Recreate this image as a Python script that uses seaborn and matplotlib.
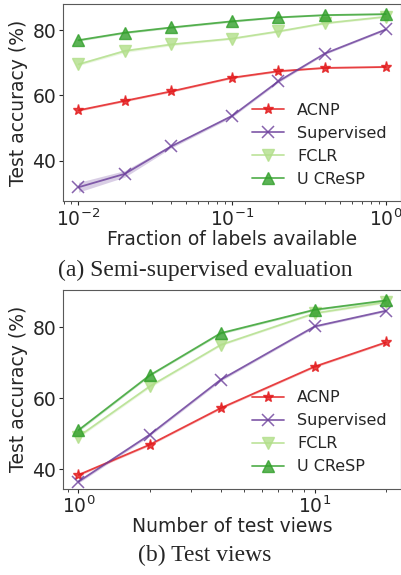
import numpy as np
import pandas as pd
import seaborn as sns
import matplotlib.pyplot as plt

# Semi-supervised evaluation
frac = [0.01, 0.02, 0.04, 0.1, 0.2, 0.4, 1.0]
acnp_a = [55.4, 58.3, 61.2, 65.4, 67.4, 68.4, 68.7]
sup_a = [31.8, 35.9, 44.3, 53.7, 64.3, 72.8, 80.2]
fclr_a = [69.5, 73.6, 75.6, 77.4, 79.6, 82.1, 84.1]
ucresp_a = [76.9, 79.2, 80.8, 82.7, 83.9, 84.6, 84.9]
acnp_a_sd = [0.3, 0.3, 0.3, 0.3, 0.3, 0.2, 0.2]
sup_a_sd = [1.5, 1.0, 0.5, 0.4, 0.4, 0.3, 0.3]
fclr_a_sd = [0.4, 0.5, 0.4, 0.3, 0.3, 0.3, 0.3]
ucresp_a_sd = [0.3, 0.3, 0.3, 0.3, 0.2, 0.2, 0.2]

# Test views
views = [1, 2, 4, 10, 20]
acnp_b = [38.4, 46.9, 57.2, 68.9, 75.7]
sup_b = [36.5, 49.7, 65.2, 80.2, 84.6]
fclr_b = [49.2, 63.3, 75.0, 83.9, 87.0]
ucresp_b = [51.0, 66.4, 78.3, 84.9, 87.5]
acnp_b_sd = [0.3, 0.3, 0.3, 0.3, 0.3]
sup_b_sd = [0.4, 0.4, 0.4, 0.3, 0.3]
fclr_b_sd = [0.4, 0.4, 0.3, 0.3, 0.3]
ucresp_b_sd = [0.4, 0.3, 0.3, 0.3, 0.3]

methods = ['ACNP', 'Supervised', 'FCLR', 'U CReSP']
colors = {'ACNP': '#e31a1c', 'Supervised': '#6a3d9a', 'FCLR': '#b2df8a', 'U CReSP': '#33a02c'}
markers = {'ACNP': '*', 'Supervised': 'x', 'FCLR': 'v', 'U CReSP': '^'}

sns.set_style('white')
plt.rcParams['font.family'] = ['DejaVu Sans']

fig = plt.figure(figsize=(4.02, 5.75), dpi=100)
ax1 = fig.add_axes([0.157, 0.650, 0.841, 0.343])
ax2 = fig.add_axes([0.157, 0.150, 0.841, 0.346])


def draw(ax, x, series, sds):
    for name, vals, sd in zip(methods, series, sds):
        df = pd.DataFrame({'x': x, 'y': vals})
        sns.lineplot(data=df, x='x', y='y', ax=ax, color=colors[name],
                     marker=markers[name], markersize=8, markeredgewidth=1.0 if name != 'Supervised' else 1.1,
                     markeredgecolor=colors[name], alpha=0.8, lw=1.3, label=name)
        lo = np.array(vals) - np.array(sd)
        hi = np.array(vals) + np.array(sd)
        ax.fill_between(x, lo, hi, color=colors[name], alpha=0.25, lw=0)
    ax.set_xscale('log')
    ax.set_ylabel('Test accuracy (%)', fontsize=13.5, labelpad=3)
    ax.tick_params(labelsize=13.5, length=3, which='major', bottom=True, left=True, pad=2)
    ax.tick_params(which='minor', length=2, bottom=True)
    ax.set_yticks([40, 60, 80])
    for s in ax.spines.values():
        s.set_color('0.35')
        s.set_linewidth(0.8)
    ax.legend(loc='lower right', frameon=False, fontsize=11.5, handlelength=2.0,
              bbox_to_anchor=(1.0, 0.0))


draw(ax1, frac, [acnp_a, sup_a, fclr_a, ucresp_a], [acnp_a_sd, sup_a_sd, fclr_a_sd, ucresp_a_sd])
ax1.set_ylim(27.5, 88)
ax1.set_xlabel('Fraction of labels available', fontsize=13.5, labelpad=0)

draw(ax2, views, [acnp_b, sup_b, fclr_b, ucresp_b], [acnp_b_sd, sup_b_sd, fclr_b_sd, ucresp_b_sd])
ax2.set_ylim(34.5, 90.5)
ax2.set_xlabel('Number of test views', fontsize=13.5, labelpad=0)

fig.text(0.51, 0.530, '(a) Semi-supervised evaluation', ha='center', va='center',
         fontsize=17, family='Liberation Serif')
fig.text(0.51, 0.034, '(b) Test views', ha='center', va='center',
         fontsize=17, family='Liberation Serif')

fig.savefig('out.png', dpi=100)
